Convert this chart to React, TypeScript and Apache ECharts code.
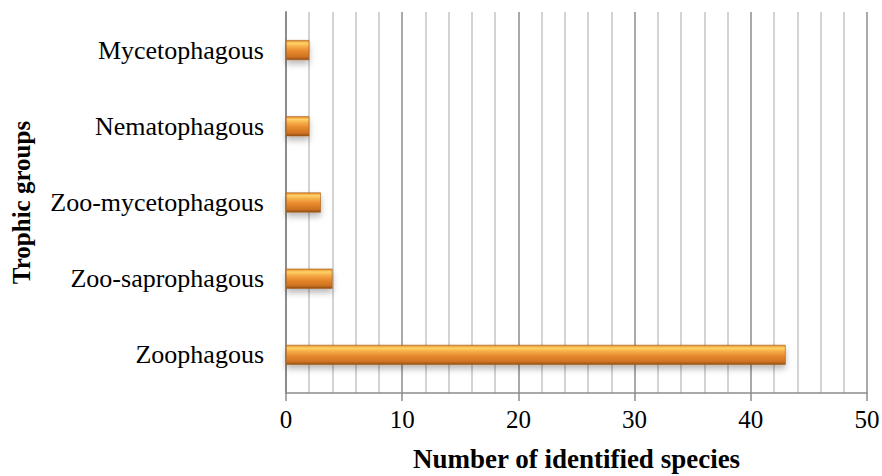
import React, { useEffect, useRef } from "react";
import * as echarts from "echarts";

const categories = ["Zoophagous", "Zoo-saprophagous", "Zoo-mycetophagous", "Nematophagous", "Mycetophagous"];
const speciesCounts = [43, 4, 3, 2, 2];
const xTitle = "Number of identified species";
const yTitle = "Trophic groups";

export default function App() {
  const ref = useRef<HTMLDivElement>(null);
  useEffect(() => {
    const chart = echarts.init(ref.current!, null, { renderer: "svg" });
    const font = "Liberation Serif";
    chart.setOption({
      animation: false,
      backgroundColor: "#ffffff",
      textStyle: { fontFamily: font },
      grid: { left: 286, right: 15, top: 12, bottom: 83, containLabel: false, outerBoundsMode: "none" },
      xAxis: {
        type: "value",
        min: 0,
        max: 50,
        interval: 10,
        name: xTitle,
        nameLocation: "middle",
        nameGap: 52,
        nameTextStyle: { fontFamily: font, fontSize: 27, fontWeight: "bold", color: "#000" },
        axisLine: { show: true, lineStyle: { color: "#8c8c8c", width: 1.5 } },
        axisTick: { show: true, length: 8, lineStyle: { color: "#8c8c8c", width: 1.5 } },
        axisLabel: { fontFamily: font, fontSize: 25, color: "#000", margin: 14, hideOverlap: false },
        splitLine: { show: true, lineStyle: { color: "#8c8c8c", width: 1.5 } },
        minorTick: { show: false, splitNumber: 5 },
        minorSplitLine: { show: true, lineStyle: { color: "#c4c4c4", width: 1.5 } },
      },
      yAxis: {
        type: "category",
        data: categories,
        name: yTitle,
        nameLocation: "middle",
        nameGap: 252,
        nameRotate: 90,
        nameTextStyle: { fontFamily: font, fontSize: 25, fontWeight: "bold", color: "#000" },
        axisLine: { show: true, lineStyle: { color: "#8c8c8c", width: 2 } },
        axisTick: { show: false },
        axisLabel: { fontFamily: font, fontSize: 26, color: "#000", margin: 22 },
        splitLine: { show: false },
      },
      series: [
        {
          type: "bar",
          data: speciesCounts,
          barWidth: 20,
          itemStyle: {
            color: new echarts.graphic.LinearGradient(0, 0, 0, 1, [
              { offset: 0, color: "#e88a2a" },
              { offset: 0.15, color: "#ffd36a" },
              { offset: 0.3, color: "#f7b04a" },
              { offset: 0.55, color: "#e88a2e" },
              { offset: 0.85, color: "#cf7222" },
              { offset: 1, color: "#8f4e16" },
            ]),
            borderColor: "#a35a18",
            borderWidth: 0.6,
            shadowColor: "rgba(0,0,0,0.28)",
            shadowBlur: 6,
            shadowOffsetY: 4,
          },
        },
      ],
    });
    return () => chart.dispose();
  }, []);
  return (
    <div
      ref={ref}
      style={{ position: "fixed", left: 0, top: 0, width: 882, height: 476 }}
    />
  );
}
